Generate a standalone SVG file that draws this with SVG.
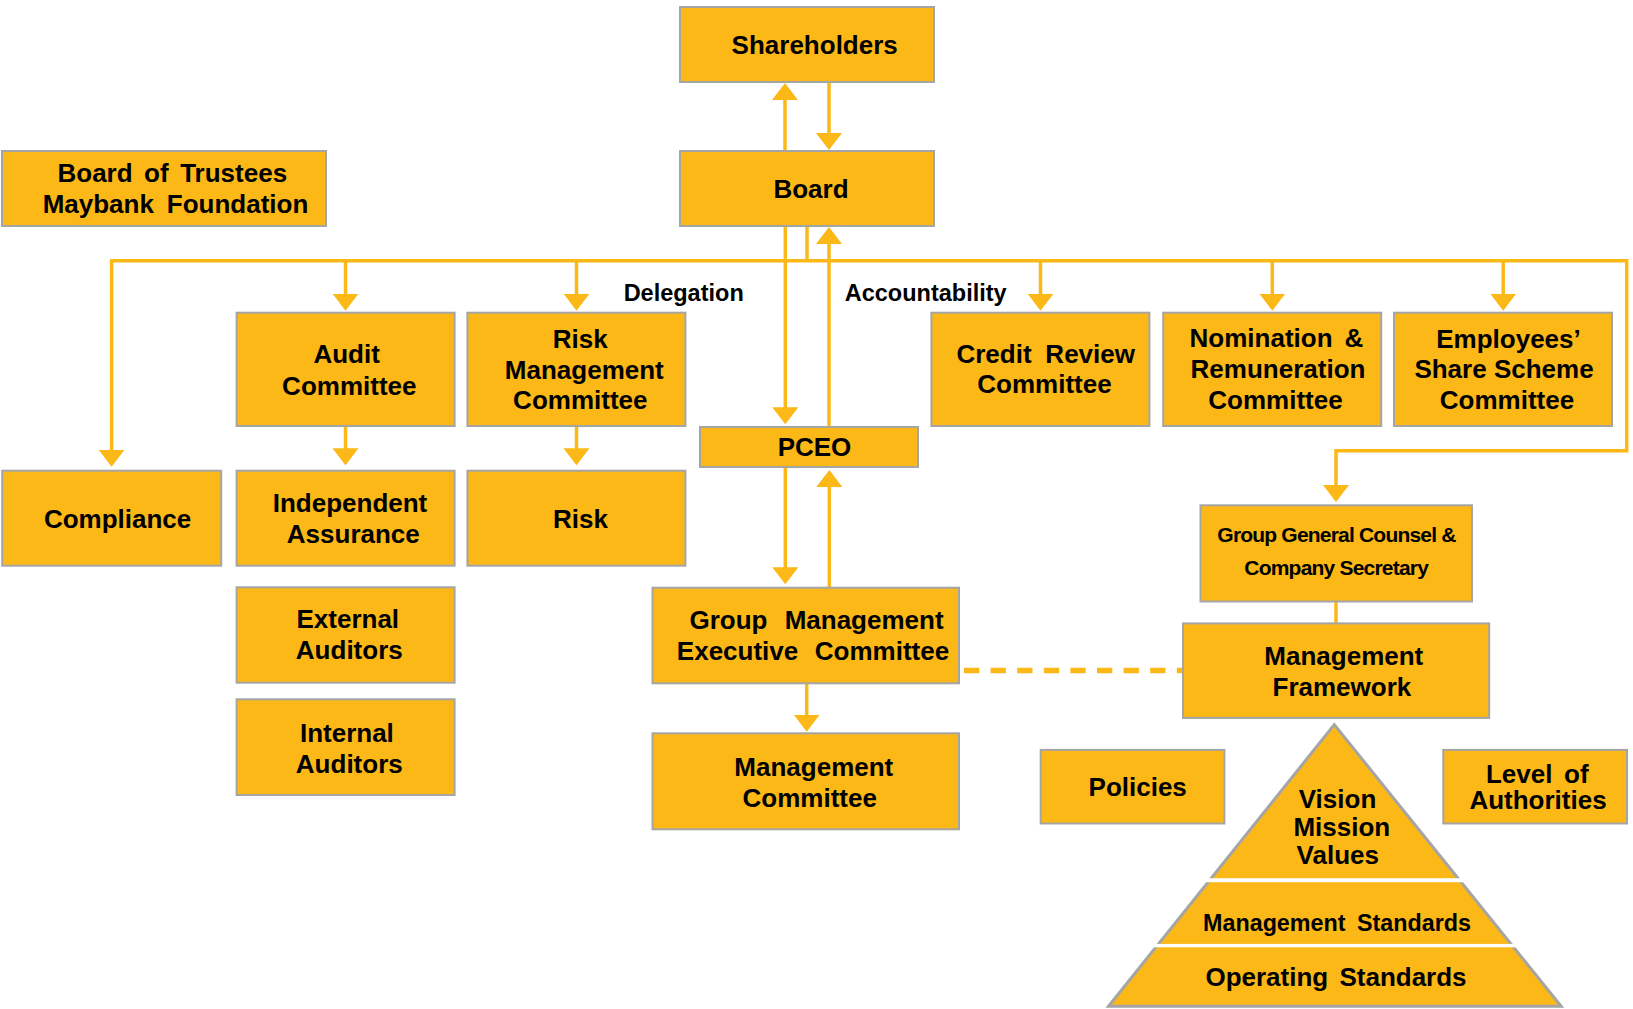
<svg xmlns="http://www.w3.org/2000/svg" width="1633" height="1009" viewBox="0 0 1633 1009">
  <style>
    .box { fill: #FBB817; stroke: #A5A5A5; stroke-width: 2; }
    .t { font-family: "Liberation Sans", Arial, Helvetica, sans-serif; font-weight: bold; font-size: 26px; fill: #000; text-anchor: middle; }
    .lbl { font-family: "Liberation Sans", Arial, Helvetica, sans-serif; font-weight: bold; font-size: 23.5px; fill: #000; text-anchor: middle; }
    .ggc { font-size: 21px; letter-spacing: -0.8px; }
    .con { fill: none; stroke: #FBB817; stroke-width: 3.5; }
    .arr { marker-end: url(#ah); }
    .dash { fill: none; stroke: #FBB817; stroke-width: 5.5; stroke-dasharray: 15.3 11.3; stroke-dashoffset: -5; }
  </style>
  <defs>
    <marker id="ah" viewBox="0 0 17 26" refX="14" refY="13" markerWidth="17" markerHeight="26" markerUnits="userSpaceOnUse" orient="auto">
      <path d="M0,0 L17,13 L0,26 Z" fill="#FBB817"/>
    </marker>
  </defs>
  <rect width="1633" height="1009" fill="#fff"/>

  <g id="connectors">
    <path class="con arr" d="M785,151 V86"/>
    <path class="con arr" d="M829,82 V147"/>
    <path class="con" d="M807,226 V260.7"/>
    <path class="con arr" d="M807,260.7 H111.6 V463.7"/>
    <path class="con arr" d="M807,260.7 H1626.7 V450.7 H1336 V499"/>
    <path class="con arr" d="M345.5,260.7 V307.7"/>
    <path class="con arr" d="M576.5,260.7 V307.7"/>
    <path class="con arr" d="M1040.5,260.7 V307.7"/>
    <path class="con arr" d="M1272.3,260.7 V307.7"/>
    <path class="con arr" d="M1503.2,260.7 V307.7"/>
    <path class="con arr" d="M785.3,226 V421.3"/>
    <path class="con arr" d="M829,427 V230"/>
    <path class="con arr" d="M345.5,426 V462.3"/>
    <path class="con arr" d="M576.5,426 V462.3"/>
    <path class="con arr" d="M785.3,466.7 V581.3"/>
    <path class="con arr" d="M829.3,587.7 V473"/>
    <path class="con arr" d="M806.7,683.3 V728.7"/>
    <path class="con" d="M1336,601.5 V623.4"/>
    <path class="dash" d="M959,670.6 H1183"/>
  </g>

  <text class="lbl" x="683.7" y="301">Delegation</text>
  <text class="lbl" x="925.7" y="301">Accountability</text>

  <g id="shareholders">
    <rect class="box" x="680" y="7" width="254" height="75"/>
    <text class="t" x="814.7" y="54">Shareholders</text>
  </g>
  <g id="board">
    <rect class="box" x="680" y="151" width="254" height="75"/>
    <text class="t" x="811" y="198.3">Board</text>
  </g>
  <g id="board-of-trustees">
    <rect class="box" x="2" y="151" width="324" height="75"/>
    <text class="t" x="172.3" y="182.3" word-spacing="4.3">Board of Trustees</text>
    <text class="t" x="175.5" y="213.3" word-spacing="5.7">Maybank Foundation</text>
  </g>
  <g id="audit-committee">
    <rect class="box" x="236.6" y="312.7" width="218" height="113.3"/>
    <text class="t" x="346.6" y="363.3">Audit</text>
    <text class="t" x="349.3" y="395">Committee</text>
  </g>
  <g id="risk-management-committee">
    <rect class="box" x="467.4" y="312.7" width="218" height="113.3"/>
    <text class="t" x="580.3" y="348.3">Risk</text>
    <text class="t" x="584.3" y="379.3">Management</text>
    <text class="t" x="580.3" y="409.3">Committee</text>
  </g>
  <g id="credit-review-committee">
    <rect class="box" x="931.4" y="312.7" width="218" height="113.3"/>
    <text class="t" x="1045.7" y="363.3" word-spacing="6.6">Credit Review</text>
    <text class="t" x="1044.5" y="393.3">Committee</text>
  </g>
  <g id="nomination-remuneration-committee">
    <rect class="box" x="1163.2" y="312.7" width="218" height="113.3"/>
    <text class="t" x="1276.4" y="346.7" word-spacing="4.7">Nomination &amp;</text>
    <text class="t" x="1278" y="378.3">Remuneration</text>
    <text class="t" x="1275.5" y="409.3">Committee</text>
  </g>
  <g id="employees-share-scheme-committee">
    <rect class="box" x="1394" y="312.7" width="218" height="113.3"/>
    <text class="t" x="1508.5" y="347.5">Employees’</text>
    <text class="t" x="1504" y="378.3">Share Scheme</text>
    <text class="t" x="1507" y="408.8">Committee</text>
  </g>
  <g id="pceo">
    <rect class="box" x="700" y="427" width="218" height="40"/>
    <text class="t" x="814.5" y="456">PCEO</text>
  </g>
  <g id="compliance">
    <rect class="box" x="2.2" y="470.7" width="219" height="95"/>
    <text class="t" x="117.6" y="528.3">Compliance</text>
  </g>
  <g id="independent-assurance">
    <rect class="box" x="236.6" y="470.7" width="218" height="95"/>
    <text class="t" x="350" y="511.7">Independent</text>
    <text class="t" x="353.3" y="542.7">Assurance</text>
  </g>
  <g id="risk">
    <rect class="box" x="467.4" y="470.7" width="218" height="95"/>
    <text class="t" x="580.4" y="528.3">Risk</text>
  </g>
  <g id="external-auditors">
    <rect class="box" x="236.6" y="587.3" width="218" height="95.4"/>
    <text class="t" x="347.8" y="628.3">External</text>
    <text class="t" x="349.3" y="659.3">Auditors</text>
  </g>
  <g id="internal-auditors">
    <rect class="box" x="236.6" y="699.3" width="218" height="95.7"/>
    <text class="t" x="346.9" y="741.7">Internal</text>
    <text class="t" x="349.3" y="772.7">Auditors</text>
  </g>
  <g id="group-management-executive-committee">
    <rect class="box" x="652.5" y="587.7" width="306.5" height="95.6"/>
    <text class="t" x="816.5" y="629.3" word-spacing="10">Group Management</text>
    <text class="t" x="813" y="660" word-spacing="9.3">Executive Committee</text>
  </g>
  <g id="management-committee">
    <rect class="box" x="652.5" y="733.3" width="306.5" height="96"/>
    <text class="t" x="813.8" y="776">Management</text>
    <text class="t" x="809.7" y="806.7">Committee</text>
  </g>
  <g id="group-general-counsel">
    <rect class="box" x="1200.5" y="505.3" width="271.5" height="96.2"/>
    <text class="t ggc" x="1336.5" y="542.4">Group General Counsel &amp;</text>
    <text class="t ggc" x="1336.2" y="574.5">Company Secretary</text>
  </g>
  <g id="management-framework">
    <rect class="box" x="1183" y="623.4" width="306.2" height="94.5"/>
    <text class="t" x="1343.8" y="664.9">Management</text>
    <text class="t" x="1341.9" y="695.9">Framework</text>
  </g>
  <g id="policies">
    <rect class="box" x="1040.7" y="749.9" width="183.7" height="73.6"/>
    <text class="t" x="1137.7" y="795.5">Policies</text>
  </g>
  <g id="level-of-authorities">
    <rect class="box" x="1443.3" y="749.9" width="183.7" height="73.6"/>
    <text class="t" x="1537.3" y="783.3" word-spacing="4.4">Level of</text>
    <text class="t" x="1538" y="808.6">Authorities</text>
  </g>
  <g id="pyramid">
    <polygon points="1334.3,724.6 1561.2,1006.3 1108.5,1006.3" fill="#FBB817" stroke="#A5A5A5" stroke-width="3"/>
    <rect x="1200" y="878.2" width="270" height="4" fill="#fff"/>
    <rect x="1150" y="943.9" width="370" height="3.4" fill="#fff"/>
    <text class="t" x="1337.5" y="807.9" font-size="25.5">Vision</text>
    <text class="t" x="1341.8" y="835.9" font-size="25.5">Mission</text>
    <text class="t" x="1337.8" y="863.6" font-size="25.5">Values</text>
    <text class="t" x="1337" y="931.1" style="font-size:23.3px" word-spacing="5">Management Standards</text>
    <text class="t" x="1336" y="986.1" word-spacing="4">Operating Standards</text>
  </g>
</svg>
